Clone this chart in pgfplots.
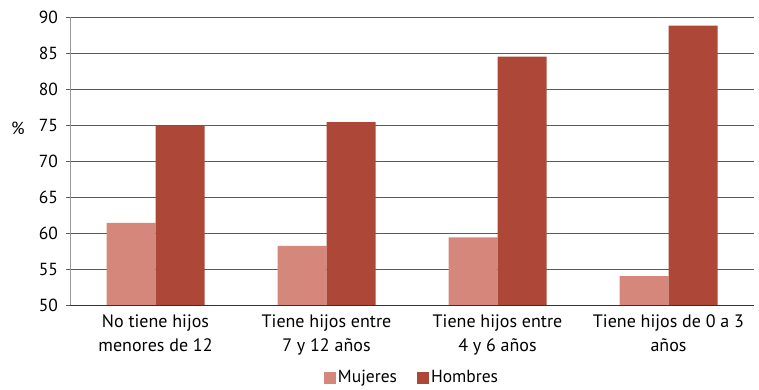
\documentclass[border=0pt]{standalone}
\usepackage{fontspec}
\setmainfont{PT Sans}
\usepackage{pgfplots}
\pgfplotsset{compat=1.18}
\definecolor{muj}{RGB}{214,135,123}
\definecolor{hom}{RGB}{173,72,57}
\definecolor{gridc}{RGB}{90,90,90}
\begin{document}
\fontsize{17.5pt}{21pt}\selectfont
\begin{tikzpicture}
\useasboundingbox (0,0) rectangle (759pt,390pt);
\begin{axis}[
  at={(70pt,85pt)}, anchor=south west,
  scale only axis, width=684pt, height=288pt,
  xmin=-0.5, xmax=3.5, ymin=50, ymax=90,
  ybar=0pt, bar width=49pt,
  ytick={50,55,...,90},
  xtick={0,1,2,3},
  xticklabels={{No tiene hijos\\menores de 12},{Tiene hijos entre\\7 y 12 años},{Tiene hijos entre\\4 y 6 años},{Tiene hijos de 0 a 3\\años}},
  xticklabel style={align=center, font=\fontsize{18pt}{24pt}\selectfont, yshift=0pt},
  yticklabel style={font=\fontsize{17.5pt}{20pt}\selectfont, xshift=-2pt},
  /pgf/number format/assume math mode=true,
  major x tick style={draw=none},
  extra x ticks={-0.5,0.5,1.5,2.5,3.5},
  extra x tick labels={},
  extra x tick style={major tick length=5pt, tick style={draw=gridc}, grid=none},
  tick align=outside,
  major tick length=4pt,
  ytick style={draw=gridc},
  axis x line*=bottom, axis y line*=left,
  x axis line style={draw=black!80, -},
  y axis line style={draw=gray!80, -},
  ymajorgrids, major grid style={draw=gridc, line width=0.6pt},
  ylabel={\%}, ylabel style={rotate=-90, at={(axis description cs:0,0.614)}, anchor=center, xshift=-52pt, font=\fontsize{17.5pt}{20pt}\selectfont},
  legend columns=2,
  legend style={draw=none, at={(0.5,-0.252)}, anchor=center, font=\fontsize{17.5pt}{20pt}\selectfont, /tikz/every even column/.append style={column sep=18pt}},
  legend image code/.code={\fill[#1,draw=none] (0pt,-6pt) rectangle (12pt,6pt);},
]
\addplot[fill=muj, draw=none] coordinates {(0,61.4) (1,58.2) (2,59.4) (3,54.0)};
\addplot[fill=hom, draw=none] coordinates {(0,74.9) (1,75.4) (2,84.5) (3,88.8)};
\legend{Mujeres, Hombres}
\end{axis}
\end{tikzpicture}
\end{document}
